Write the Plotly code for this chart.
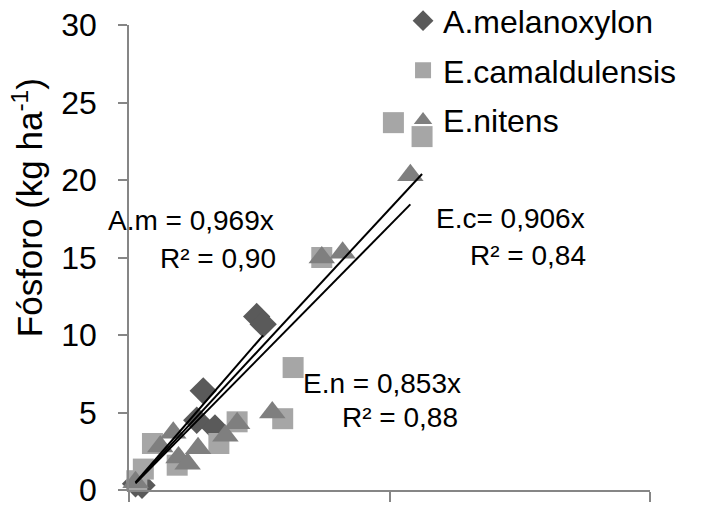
import plotly.graph_objects as go

# ---- data ----
am_x = [0.5, 1.0, 5.2, 5.7, 6.6, 9.8, 10.3]
am_y = [0.4, 0.3, 4.5, 6.4, 4.0, 11.2, 10.7]

ec_x = [0.6, 1.1, 1.8, 3.7, 6.9, 8.3, 11.8, 12.6, 14.8, 20.3, 22.5]
ec_y = [0.6, 1.35, 3.0, 1.6, 3.0, 4.4, 4.6, 7.9, 15.0, 23.7, 22.8]

en_x = [0.5, 2.4, 3.4, 3.8, 4.5, 5.3, 7.4, 8.3, 11.0, 14.8, 16.4, 21.6]
en_y = [0.5, 2.8, 3.7, 2.1, 1.7, 2.7, 3.5, 4.3, 5.0, 15.0, 15.3, 20.3]

series_names = ["A.melanoxylon", "E.camaldulensis", "E.nitens"]
slopes = [0.969, 0.906, 0.853]
r2 = ["0,90", "0,84", "0,88"]
eq_labels = ["A.m = 0,969x", "E.c= 0,906x", "E.n = 0,853x"]

y_ticks = [0, 5, 10, 15, 20, 25, 30]
x_ticks = [0, 20, 40]

FONT = "Liberation Sans, Arial, sans-serif"
AXIS_COL = "#868686"

fig = go.Figure()

symbols = ["diamond", "square", "triangle-up"]
colors = ["#5a5a5a", "#a6a6a6", "#7f7f7f"]
sizes = [21, 21, 23]
data = [(am_x, am_y), (ec_x, ec_y), (en_x, en_y)]

for i, (xs, ys) in enumerate(data):
    fig.add_trace(go.Scatter(
        x=xs, y=ys, mode="markers", name=series_names[i],
        legendgroup=series_names[i],
        marker=dict(symbol=symbols[i], color=colors[i], size=sizes[i], line=dict(width=0)),
        cliponaxis=False,
    ))

# trendlines through origin, spanning each series' x range
for i, (xs, ys) in enumerate(data):
    x0, x1 = min(xs), max(xs)
    fig.add_trace(go.Scatter(
        x=[x0, x1], y=[slopes[i] * x0, slopes[i] * x1], mode="lines",
        line=dict(color="black", width=2), showlegend=False, hoverinfo="skip",
        cliponaxis=False,
    ))

# equation annotations (layout positions)
ann_pos = [((11.3, 17.4), (11.45, 14.95)),
           ((35.2, 17.5), (35.25, 15.1)),
           ((25.65, 6.9), (25.45, 4.65))]
annotations = []
for i in range(3):
    (xa, ya), (xb, yb) = ann_pos[i]
    annotations.append(dict(x=xa, y=ya, xref="x", yref="y", text=eq_labels[i],
                            showarrow=False, xanchor="right", yanchor="middle",
                            font=dict(family=FONT, size=28, color="black")))
    annotations.append(dict(x=xb, y=yb, xref="x", yref="y", text="R² = " + r2[i],
                            showarrow=False, xanchor="right", yanchor="middle",
                            font=dict(family=FONT, size=28, color="black")))

annotations.append(dict(x=-0.194, y=0.608, xref="paper", yref="paper",
                        text="Fósforo (kg ha<sup>-1</sup>)", textangle=-90,
                        showarrow=False, xanchor="center", yanchor="middle",
                        font=dict(family=FONT, size=35, color="black")))

fig.update_layout(
    width=707, height=522,
    margin=dict(l=129, r=57, t=25, b=32, autoexpand=False),
    plot_bgcolor="white", paper_bgcolor="white",
    font=dict(family=FONT, color="black"),
    annotations=annotations,
    showlegend=True,
    legend=dict(x=0.526, y=1.068, xanchor="left", yanchor="top",
                font=dict(family=FONT, size=32, color="black"),
                bgcolor="rgba(0,0,0,0)", traceorder="grouped",
                tracegroupgap=5, itemsizing="trace"),
    xaxis=dict(range=[0, 40], tickvals=x_ticks, showticklabels=False,
               ticks="outside", ticklen=10, tickwidth=1.5, tickcolor=AXIS_COL,
               showline=True, linecolor=AXIS_COL, linewidth=1.5,
               showgrid=False, zeroline=False),
    yaxis=dict(range=[0, 30], tickvals=y_ticks, ticks="outside", ticklen=9,
               tickwidth=1.5, tickcolor=AXIS_COL, showline=True,
               linecolor=AXIS_COL, linewidth=1.5, showgrid=False, zeroline=False,
               tickfont=dict(family=FONT, size=32, color="black"),
               ticklabelstandoff=15),
)

fig.write_html(
    "out.html",
    config={"displayModeBar": False},
    post_script="document.body.style.margin='0';document.body.style.padding='0';",
)
